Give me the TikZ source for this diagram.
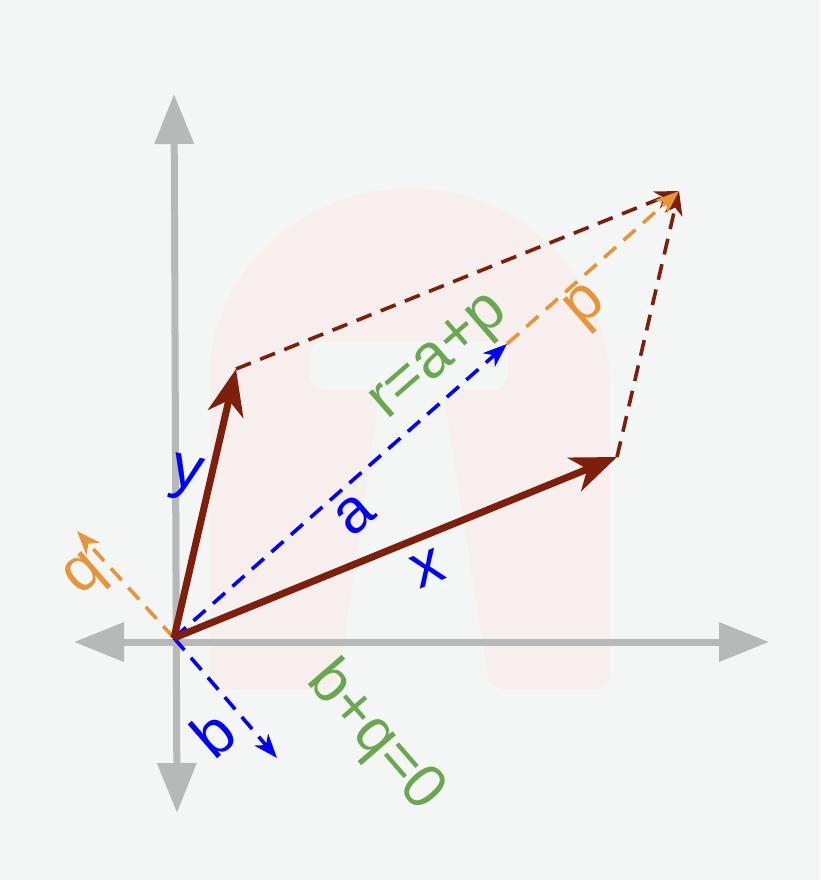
\documentclass[tikz,border=0pt]{standalone}
\usepackage{fontspec}
\setmainfont{Liberation Sans}
\usetikzlibrary{arrows.meta}

\definecolor{bgcol}{HTML}{F4F6F6}
\definecolor{wmark}{HTML}{F6EFED}
\definecolor{axisgray}{HTML}{B7B8B8}
\definecolor{vecbrown}{HTML}{801E0C}
\definecolor{vecblue}{HTML}{0000FF}
\definecolor{lblorange}{HTML}{E8953A}
\definecolor{lblgreen}{HTML}{6AA84F}

\tikzset{
  axis/.style={line width=7pt, color=axisgray,
    {Triangle[length=50pt,width=38pt]}-{Triangle[length=50pt,width=38pt]}},
  vec/.style={line width=7pt, color=vecbrown,
    -{Stealth[length=46pt,width=36pt,inset=14pt]}},
  dvec/.style={line width=3.6pt, dash pattern=on 16pt off 10pt,
    -{Stealth[length=24pt,width=18pt,inset=7pt]}},
  lbl/.style={font=\fontsize{62}{62}\selectfont, inner sep=0pt}
}

\begin{document}
\begin{tikzpicture}[x=1pt,y=-1pt]

\fill[bgcol] (0,0) rectangle (820,880);
\useasboundingbox (0,0) rectangle (820,880);

% faint logo behind the picture
\fill[wmark] (210,388) arc[start angle=180, end angle=360, radius=200]
  [rounded corners=14pt] -- (610,690) -- (490,690) -- (443,389) -- (508,389)
  -- (508,341) -- (310,341) -- (310,389) -- (380,389) -- (337,690)
  -- (210,690) -- cycle;

\coordinate (O) at (174,638);
\coordinate (Y) at (236,369);
\coordinate (X) at (617,457);
\coordinate (S) at (679,191);
\coordinate (A) at (507,344);
\coordinate (B) at (277,758);
\coordinate (Q) at (77,531);

\coordinate (axL) at (74,642);
\coordinate (axR) at (769,642);
\coordinate (axT) at (174,94);
\coordinate (axB) at (177,813);

\draw[axis] (axB) -- (axT);
\draw[axis] (axL) -- (axR);

\draw[dvec, vecbrown] (Y) -- (S);
\draw[dvec, vecbrown] (X) -- (S);
\draw[dvec, lblorange] (A) -- (S);
\draw[dvec, lblorange] (O) -- (Q);
\draw[dvec, vecblue] (O) -- (A);
\draw[dvec, vecblue] (O) -- (B);

\draw[vec] (O) -- (Y);
\draw[vec] (O) -- (X);

\node[lbl, vecblue, rotate=-13] (lblY) at (186,478) {y};
\node[lbl, vecblue, rotate=22] (lblX) at (428,569) {x};
\node[lbl, vecblue, rotate=41] (lblA) at (355,515) {a};
\node[lbl, vecblue, rotate=41] (lblB) at (213,733) {b};
\node[lbl, lblorange, rotate=41] (lblP) at (588,308) {p};
\node[lbl, lblorange, rotate=41] (lblQ) at (87,577) {q};
\node[lbl, lblgreen, rotate=41] (lblR) at (441,359) {r=a+p};
\node[lbl, lblgreen, rotate=-49] (lblBQ) at (375,737) {b+q=0};
\end{tikzpicture}
\end{document}
